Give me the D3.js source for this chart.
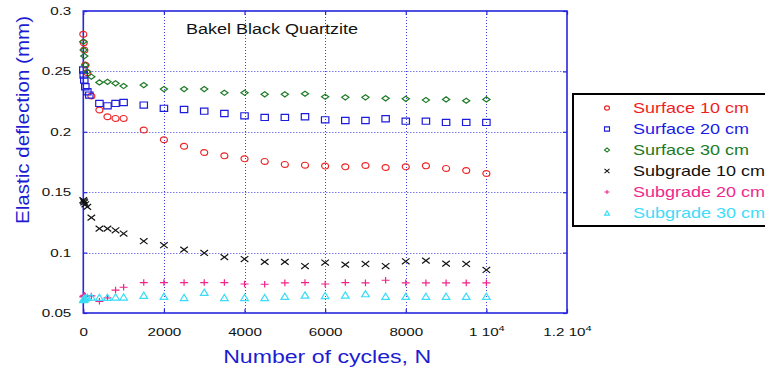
<!DOCTYPE html>
<html>
<head>
<meta charset="utf-8">
<script src="https://cdn.jsdelivr.net/npm/d3@7"></script>
<style>
  html, body { margin: 0; padding: 0; background: #fff; }
  svg { display: block; font-family: "Liberation Sans", Arial, Helvetica, sans-serif; }
</style>
</head>
<body>
<svg id="chart" width="765" height="370"></svg>
<script>
// Number of load cycles at which deflection was recorded
const cycles = [0, 10, 25, 50, 100, 150, 200, 400, 600, 800, 1000,
  1500, 2000, 2500, 3000, 3500, 4000, 4500, 5000, 5500, 6000,
  6500, 7000, 7500, 8000, 8500, 9000, 9500, 10000];

// Elastic deflection (mm) per gauge; null = no reading at that cycle count
const surface10 = [0.2807, 0.2737, 0.2677, 0.2553, 0.2489, null, 0.2296, 0.2180, 0.2124, 0.2111, 0.2111,
  0.2014, 0.1934, 0.1881, 0.1829, 0.1801, 0.1776, 0.1755, 0.1730, 0.1724, 0.1716,
  0.1710, 0.1721, 0.1705, 0.1710, 0.1718, 0.1697, 0.1680, 0.1655];
const surface20 = [0.2511, 0.2470, 0.2428, 0.2373, 0.2331, 0.2304, null, 0.2235, 0.2215, 0.2235, 0.2243,
  0.2221, 0.2194, 0.2185, 0.2171, 0.2152, 0.2132, 0.2119, 0.2119, 0.2124, 0.2099,
  0.2094, 0.2094, 0.2108, 0.2088, 0.2088, 0.2078, 0.2078, 0.2078];
const surface30 = [0.2746, 0.2677, 0.2627, 0.2553, 0.2497, null, 0.2456, 0.2409, 0.2414, 0.2401, 0.2379,
  0.2387, 0.2354, 0.2354, 0.2354, 0.2323, 0.2323, 0.2310, 0.2310, 0.2315, 0.2290,
  0.2285, 0.2285, 0.2277, 0.2273, 0.2263, 0.2268, 0.2257, 0.2268];
const subgrade10 = [0.1434, 0.1425, 0.1415, 0.1400, 0.1378, null, 0.1290, 0.1199, 0.1199, 0.1185, 0.1158,
  0.1094, 0.1061, 0.1025, 0.0997, 0.0962, 0.0947, 0.0923, 0.0923, 0.0889, 0.0918,
  0.0901, 0.0906, 0.0889, 0.0928, 0.0934, 0.0909, 0.0906, 0.0856];
const subgrade20 = [0.0633, 0.0640, 0.0647, 0.0640, null, null, 0.0641, 0.0597, 0.0626, 0.0690, 0.0713,
  0.0752, 0.0752, 0.0752, 0.0752, 0.0752, 0.0740, 0.0738, 0.0749, 0.0752, 0.0740,
  0.0752, 0.0749, 0.0771, 0.0749, 0.0749, 0.0749, 0.0749, 0.0749];
const subgrade30 = [0.0611, 0.0615, 0.0620, 0.0625, 0.0630, null, 0.0633, 0.0630, 0.0630, 0.0633, 0.0633,
  0.0647, 0.0638, 0.0628, 0.0672, 0.0628, 0.0628, 0.0628, 0.0638, 0.0649, 0.0644,
  0.0649, 0.0660, 0.0638, 0.0638, 0.0638, 0.0638, 0.0638, 0.0638];

const seriesNames = ["Surface 10 cm", "Surface 20 cm", "Surface 30 cm",
  "Subgrade 10 cm", "Subgrade 20 cm", "Subgrade 30 cm"];
const seriesValues = [surface10, surface20, surface30, subgrade10, subgrade20, subgrade30];
const seriesMarkers = ["circle", "square", "diamond", "cross", "plus", "triangle"];
const seriesColors = ["#ec2426", "#1c1cdc", "#1c7a24", "#111111", "#f2228a", "#3adcf8"];

const xTicks = [0, 2000, 4000, 6000, 8000, 10000, 12000];
const yTicks = [0.05, 0.1, 0.15, 0.2, 0.25, 0.3];
const xTickLabels = ["0", "2000", "4000", "6000", "8000", "1 10|4", "1.2 10|4"];
const yTickLabels = ["0.05", "0.1", "0.15", "0.2", "0.25", "0.3"];

const titleText = "Bakel Black Quartzite";
const xTitle = "Number of cycles, N";
const yTitle = "Elastic deflection (mm)";

// ---- layout ----
const plot = { left: 83.3, right: 567, top: 11, bottom: 313 };
const axisBlue = "#2626dc";
const gridBlue = "#3c3ce6";
const titleBlue = "#1c1cd2";

const svg = d3.select("#chart");
const x = d3.scaleLinear().domain([0, 12000]).range([plot.left, plot.right]);
const y = d3.scaleLinear().domain([0.05, 0.3]).range([plot.bottom, plot.top]);

// marker outlines, stretched a little wider than tall
function markerPath(type, w, h) {
  const a = w / 2, b = h / 2;
  switch (type) {
    case "circle":
      return `M${-a},0A${a},${b} 0 1 0 ${a},0A${a},${b} 0 1 0 ${-a},0Z`;
    case "square":
      return `M${-a},${-b}H${a}V${b}H${-a}Z`;
    case "diamond":
      return `M0,${-b}L${a},0L0,${b}L${-a},0Z`;
    case "cross":
      return `M${-a},${-b}L${a},${b}M${-a},${b}L${a},${-b}`;
    case "plus":
      return `M${-a},0H${a}M0,${-b}V${b}`;
    case "triangle":
      return `M0,${-b}L${a},${b}L${-a},${b}Z`;
  }
}
const markerSize = {
  circle: [7, 5.8], square: [7.4, 6.2], diamond: [7.2, 5.2],
  cross: [7.6, 5.8], plus: [8, 6.6], triangle: [7.6, 6.2]
};

// ---- grid (dotted) ----
const grid = svg.append("g").attr("stroke", gridBlue).attr("stroke-width", 1)
  .attr("stroke-dasharray", "1,2");
grid.selectAll("line.gx").data(xTicks.slice(1, -1)).join("line")
  .attr("x1", d => Math.round(x(d)) + 0.5).attr("x2", d => Math.round(x(d)) + 0.5)
  .attr("y1", plot.top).attr("y2", plot.bottom);
grid.selectAll("line.gy").data(yTicks.slice(1, -1)).join("line")
  .attr("y1", d => Math.round(y(d)) + 0.5).attr("y2", d => Math.round(y(d)) + 0.5)
  .attr("x1", plot.left).attr("x2", plot.right);

// ---- axes ----
const labelScale = 1.38;
function styleAxis(g) {
  g.select(".domain").remove();
  g.selectAll(".tick line").attr("stroke", axisBlue).attr("stroke-width", 1.2);
}
const fmtX = d => xTickLabels[xTicks.indexOf(d)];
const fmtY = d => yTickLabels[yTicks.findIndex(v => Math.abs(v - d) < 1e-9)];

const gx = svg.append("g").attr("transform", `translate(0,${plot.bottom})`)
  .call(d3.axisBottom(x).tickValues(xTicks).tickFormat(fmtX).tickSizeInner(-4).tickSizeOuter(0).tickPadding(15));
styleAxis(gx);
gx.selectAll(".tick text").each(function (d) {
  const t = d3.select(this);
  const parts = t.text().split("|");
  t.text(parts[0]);
  if (parts[1]) {
    t.append("tspan").attr("dy", "-0.55em").attr("font-size", 8).text(parts[1]);
  }
  t.attr("font-size", 11).attr("fill", "#111")
    .attr("font-family", "'Liberation Sans', Arial, sans-serif")
    .attr("transform", `scale(${labelScale},1)`);
});

const gy = svg.append("g").attr("transform", `translate(${plot.left},0)`)
  .call(d3.axisLeft(y).tickValues(yTicks).tickFormat(fmtY).tickSizeInner(-4).tickSizeOuter(0).tickPadding(12));
styleAxis(gy);
gy.selectAll(".tick text").each(function () {
  const t = d3.select(this);
  const x0 = +t.attr("x");
  t.attr("font-size", 11).attr("fill", "#111")
    .attr("font-family", "'Liberation Sans', Arial, sans-serif")
    .attr("x", x0 / labelScale)
    .attr("transform", `scale(${labelScale},1)`);
});

const gTop = svg.append("g").attr("transform", `translate(0,${plot.top})`)
  .call(d3.axisTop(x).tickValues(xTicks).tickFormat("").tickSizeInner(-4).tickSizeOuter(0));
styleAxis(gTop);
const gRight = svg.append("g").attr("transform", `translate(${plot.right},0)`)
  .call(d3.axisRight(y).tickValues(yTicks).tickFormat("").tickSizeInner(-4).tickSizeOuter(0));
styleAxis(gRight);

// plot frame
svg.append("rect")
  .attr("x", plot.left).attr("y", plot.top)
  .attr("width", plot.right - plot.left).attr("height", plot.bottom - plot.top)
  .attr("fill", "none").attr("stroke", axisBlue).attr("stroke-width", 1.6);

// ---- data markers ----
seriesValues.forEach((vals, i) => {
  const type = seriesMarkers[i];
  const [w, h] = markerSize[type];
  const pts = cycles.map((c, k) => ({ c, v: vals[k] })).filter(p => p.v != null);
  svg.append("g")
    .attr("fill", "none").attr("stroke", seriesColors[i]).attr("stroke-width", 1.2)
    .selectAll("path").data(pts).join("path")
    .attr("transform", p => `translate(${x(p.c)},${y(p.v)})`)
    .attr("d", markerPath(type, w, h));
});

// helper to widen a text run to a given length
function fitWidth(sel, width) {
  sel.attr("textLength", width).attr("lengthAdjust", "spacingAndGlyphs");
}

// ---- titles ----
svg.append("text").attr("x", 186).attr("y", 34).attr("font-size", 14)
  .attr("fill", "#111").text(titleText).call(fitWidth, 172);

svg.append("text").attr("x", (plot.left + plot.right) / 2 + 2).attr("y", 363)
  .attr("text-anchor", "middle").attr("font-size", 18).attr("fill", titleBlue)
  .text(xTitle).call(fitWidth, 208);

svg.append("text")
  .attr("transform", "translate(29,120) rotate(-90)")
  .attr("text-anchor", "middle").attr("font-size", 17.5).attr("fill", titleBlue)
  .text(yTitle).call(fitWidth, 208);

// ---- legend ----
const legend = svg.append("g");
legend.append("rect").attr("x", 573).attr("y", 94).attr("width", 210).attr("height", 132)
  .attr("fill", "#fff").attr("stroke", "#000").attr("stroke-width", 2);
const legendColors = ["#f01e1e", "#1a1ae6", "#1c7a24", "#111111", "#f0288c", "#40dcfa"];
seriesNames.forEach((name, i) => {
  const cy = 108 + i * 21;
  legend.append("path")
    .attr("transform", `translate(607,${cy})`)
    .attr("d", markerPath(seriesMarkers[i], 5, 4.2))
    .attr("fill", "none").attr("stroke", seriesColors[i]).attr("stroke-width", 1.1);
  const t = legend.append("text").attr("x", 633).attr("y", cy + 5.3)
    .attr("font-size", 15).attr("fill", legendColors[i]).text(name);
  const len = t.node().getComputedTextLength();
  t.call(fitWidth, len * 1.2);
});
</script>
</body>
</html>
